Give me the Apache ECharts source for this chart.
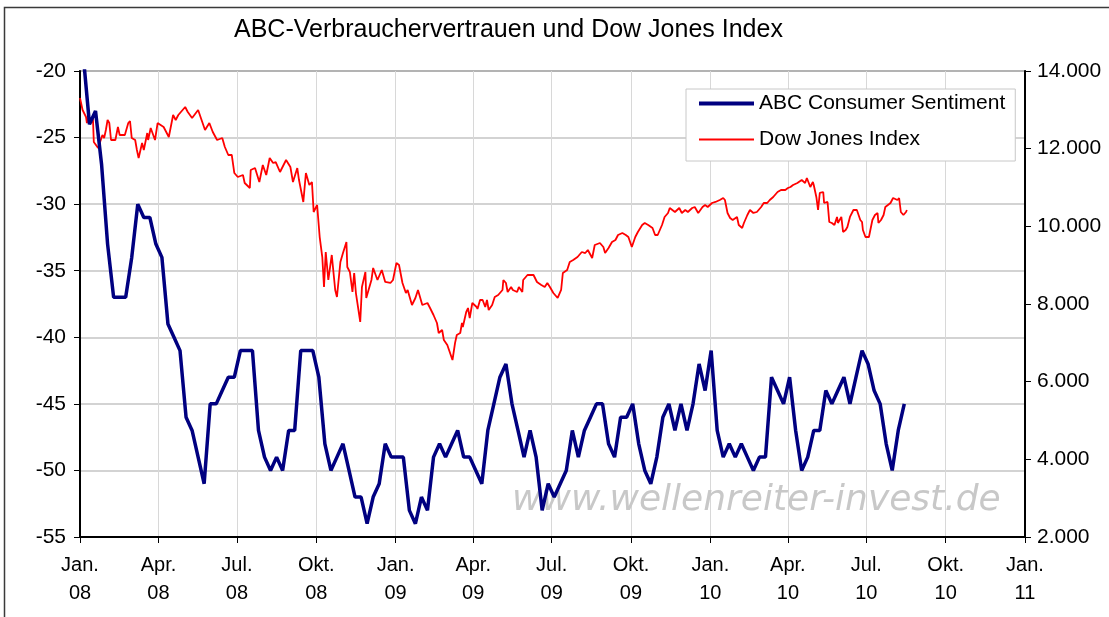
<html>
  <head>
    <meta charset="utf-8">
    <script src="https://cdnjs.cloudflare.com/ajax/libs/echarts/6.0.0/echarts.min.js"></script>
    <style>
      body { margin: 0; background-color: #fff; }
      #chart { width: 1109px; height: 617px; }
    </style>
  </head>
  <body>
    <div id="chart"></div>
  </body>
  <script>
    // x values are days since 1 Jan 2008
    var quarterDays = [0, 91, 182, 274, 366, 456, 547, 639, 731, 821, 912, 1004, 1096];
    var quarterLabels = ['Jan.\n08', 'Apr.\n08', 'Jul.\n08', 'Okt.\n08', 'Jan.\n09', 'Apr.\n09', 'Jul.\n09',
                         'Okt.\n09', 'Jan.\n10', 'Apr.\n10', 'Jul.\n10', 'Okt.\n10', 'Jan.\n11'];

    // ABC consumer sentiment, weekly from 5 Jan 2008
    var abcFirstDay = 4;
    var abcValues = [-19, -24, -23, -27, -33, -37, -37, -37, -34, -30,
                     -31, -31, -33, -34, -39, -40, -41, -46, -47, -49,
                     -51, -45, -45, -44, -43, -43, -41, -41, -41, -47,
                     -49, -50, -49, -50, -47, -47, -41, -41, -41, -43,
                     -48, -50, -49, -48, -50, -52, -52, -54, -52, -51,
                     -48, -49, -49, -49, -53, -54, -52, -53, -49, -48,
                     -49, -48, -47, -49, -49, -50, -51, -47, -45, -43,
                     -42, -45, -47, -49, -47, -49, -53, -51, -52, -51,
                     -50, -47, -49, -47, -46, -45, -45, -48, -49, -46,
                     -46, -45, -48, -50, -51, -49, -46, -45, -47, -45,
                     -47, -45, -42, -44, -41, -47, -49, -48, -49, -48,
                     -49, -50, -49, -49, -43, -44, -45, -43, -47, -50,
                     -49, -47, -47, -44, -45, -44, -43, -45, -43, -41,
                     -42, -44, -45, -48, -50, -47, -45];

    // Dow Jones
    var djDays = [0, 3, 7, 8, 10, 13, 15, 16, 21, 26, 28, 30, 32, 34, 36, 41, 44, 46, 52, 56,
                  58, 60, 64, 66, 68, 72, 74, 78, 79, 82, 87, 90, 97, 103, 108, 111, 114, 122, 125, 130,
                  137, 143, 145, 150, 154, 159, 165, 168, 172, 176, 179, 183, 189, 191, 197, 198, 203, 208, 212, 216,
                  220, 224, 227, 232, 239, 244, 247, 252, 254, 259, 262, 266, 269, 271, 275, 278, 281, 283, 285, 288,
                  292, 296, 298, 302, 305, 309, 310, 313, 316, 318, 320, 325, 327, 331, 332, 338, 340, 345, 350, 354,
                  360, 363, 367, 370, 374, 378, 380, 385, 389, 392, 397, 403, 406, 410, 414, 416, 420, 422, 426, 428,
                  432, 434, 435, 437, 441, 443, 444, 448, 450, 452, 455, 460, 461, 464, 467, 470, 472, 474, 478, 481,
                  485, 490, 491, 494, 496, 500, 502, 507, 509, 513, 514, 519, 526, 530, 535, 539, 542, 545, 549, 551,
                  554, 558, 560, 565, 568, 572, 577, 582, 586, 589, 594, 597, 603, 607, 609, 613, 617, 621, 624, 629,
                  633, 636, 640, 644, 647, 652, 655, 659, 664, 667, 670, 675, 678, 682, 684, 690, 695, 698, 702, 705,
                  710, 713, 717, 722, 725, 728, 733, 737, 742, 746, 748, 751, 754, 757, 762, 764, 768, 770, 774, 777,
                  781, 785, 790, 793, 797, 800, 804, 809, 813, 818, 821, 824, 827, 832, 834, 837, 841, 843, 847, 850,
                  851, 854, 856, 858, 862, 863, 867, 869, 872, 875, 878, 879, 883, 885, 888, 890, 893, 897, 901, 905,
                  907, 908, 911, 913, 915, 919, 922, 925, 926, 929, 932, 934, 937, 940, 943, 948, 950, 952, 955, 958,
                  959];
    var djValues = [13305, 12996, 12815, 12660, 12815, 12660, 12790, 12172, 12017, 12352, 12275, 12480, 12738, 12660, 12223, 12223, 12558, 12352, 12352, 12660,
                    12712, 12275, 12223, 11966, 11760, 12146, 11966, 12403, 12223, 12532, 12223, 12660, 12558, 12300, 12867, 12738, 12867, 13073, 12944, 12790,
                    12996, 12609, 12480, 12660, 12429, 12223, 12275, 12043, 11837, 11837, 11373, 11270, 11322, 11116, 10987, 11450, 11502, 11142, 11579, 11322,
                    11760, 11631, 11656, 11399, 11708, 11528, 11142, 11502, 11193, 10627, 11373, 11064, 11142, 10369, 10550, 9725, 9210, 8438, 9339, 8618,
                    9262, 8361, 8180, 9082, 9313, 9597, 8953, 8824, 8309, 8798, 8283, 7537, 8438, 8824, 8155, 8618, 8927, 8618, 8876, 8567,
                    8541, 8618, 9056, 9004, 8541, 8283, 8361, 7974, 8155, 8361, 7974, 8026, 7897, 7717, 7511, 7253, 7330, 7073, 6945, 6816,
                    6558, 6558, 7000, 7202, 7253, 7511, 7408, 7800, 7897, 7640, 8026, 7923, 7871, 8103, 8103, 7923, 8103, 7845, 7974, 8180,
                    8232, 8361, 8618, 8541, 8309, 8438, 8361, 8309, 8438, 8309, 8618, 8747, 8747, 8567, 8490, 8438, 8541, 8438, 8283, 8232,
                    8155, 8361, 8798, 8876, 9082, 9133, 9210, 9339, 9313, 9390, 9184, 9520, 9571, 9468, 9313, 9442, 9597, 9648, 9777, 9828,
                    9777, 9725, 9468, 9725, 9854, 10034, 10086, 10034, 9957, 9777, 9777, 10034, 10241, 10344, 10472, 10369, 10472, 10344, 10421, 10369,
                    10472, 10498, 10344, 10498, 10550, 10498, 10601, 10627, 10678, 10730, 10678, 10344, 10215, 10164, 10241, 10034, 9957, 10086, 10292, 10421,
                    10344, 10369, 10498, 10601, 10601, 10678, 10756, 10884, 10936, 10936, 10987, 11013, 11065, 11116, 11142, 11193, 11116, 11245, 11013, 11142,
                    11065, 10756, 10421, 10859, 10884, 10601, 10627, 10112, 10086, 10034, 10241, 10086, 10241, 9854, 9906, 9983, 10241, 10421, 10421, 10164,
                    10112, 9906, 9725, 9700, 9725, 10164, 10292, 10344, 10086, 10164, 10292, 10498, 10550, 10601, 10730, 10678, 10730, 10369, 10292, 10369,
                    10421];

    var abcData = [];
    for (let i = 0; i < abcValues.length; i++) {
        abcData.push([abcFirstDay + 7 * i, abcValues[i]]);
    }
    var djData = [];
    for (let i = 0; i < djDays.length; i++) {
        djData.push([djDays[i], djValues[i]]);
    }

    var font = 'Liberation Sans';
    var chart = echarts.init(document.getElementById('chart'));
    var option = {
        animation: false,
        title: {
            text: 'ABC-Verbrauchervertrauen und Dow Jones Index',
            left: 234, top: 18, padding: 0,
            textStyle: { fontFamily: font, fontSize: 25, fontWeight: 'normal', color: '#000' }
        },
        legend: {
            orient: 'vertical', left: 686, top: 89,
            padding: [4, 10, 11, 11], itemGap: 15, itemWidth: 55, itemHeight: 20,
            backgroundColor: '#fff', borderColor: '#c8c8c8', borderWidth: 1,
            itemStyle: { opacity: 0 },
            textStyle: { fontFamily: font, fontSize: 21, color: '#000' },
            data: [
                { name: 'ABC Consumer Sentiment', lineStyle: { width: 4, color: '#000080' } },
                { name: 'Dow Jones Index', lineStyle: { width: 2, color: '#ff0000' } }
            ]
        },
        grid: { left: 80, right: 84, top: 71, bottom: 80, show: true, borderColor: '#808080', borderWidth: 2 },
        xAxis: {
            type: 'value', min: 0, max: 1096,
            axisLine: { lineStyle: { color: '#000', width: 2 } },
            axisTick: { customValues: quarterDays, length: 6, lineStyle: { color: '#000' } },
            axisLabel: {
                customValues: quarterDays, margin: 14, lineHeight: 28,
                fontFamily: font, fontSize: 20, color: '#000',
                formatter: function (v) { return quarterLabels[quarterDays.indexOf(v)]; }
            },
            splitLine: { show: true, lineStyle: { color: '#d8d8d8', width: 1 } }
        },
        yAxis: [{
            type: 'value', min: -55, max: -20, interval: 5,
            axisLine: { show: true, lineStyle: { color: '#000', width: 2 } },
            axisTick: { show: true, length: 6, lineStyle: { color: '#000' } },
            axisLabel: { margin: 14, fontFamily: font, fontSize: 21, color: '#000' },
            splitLine: { show: true, lineStyle: { color: '#c4c4c4', width: 1.5 } }
        }, {
            type: 'value', min: 2000, max: 14000, interval: 2000, position: 'right',
            axisLine: { show: true, lineStyle: { color: '#000', width: 2 } },
            axisTick: { show: true, length: 6, lineStyle: { color: '#000' } },
            axisLabel: {
                margin: 12, fontFamily: font, fontSize: 21, color: '#000',
                formatter: function (v) { return String(v).replace(/\B(?=(\d{3})+(?!\d))/g, '.'); }
            },
            splitLine: { show: false }
        }],
        graphic: [{
            type: 'rect', z: 0, silent: true,
            shape: { x: 4.5, y: 7.5, width: 1200, height: 700 },
            style: { fill: null, stroke: '#3a3a3a', lineWidth: 1.5 }
        }, {
            type: 'text', z: 1, left: 512, top: 483, silent: true,
            style: { text: 'www.wellenreiter-invest.de', fontFamily: 'DejaVu Sans', fontSize: 36,
                     fontStyle: 'italic', fill: '#c8c8c8' }
        }],
        series: [{
            name: 'ABC Consumer Sentiment', type: 'line', yAxisIndex: 0,
            symbol: 'none', data: abcData, z: 4,
            lineStyle: { color: '#000080', width: 3.5 },
            itemStyle: { color: '#000080' }
        }, {
            name: 'Dow Jones Index', type: 'line', yAxisIndex: 1,
            symbol: 'none', data: djData, z: 3,
            lineStyle: { color: '#ff0000', width: 1.8 },
            itemStyle: { color: '#ff0000' }
        }]
    };
    chart.setOption(option);
  </script>
</html>
